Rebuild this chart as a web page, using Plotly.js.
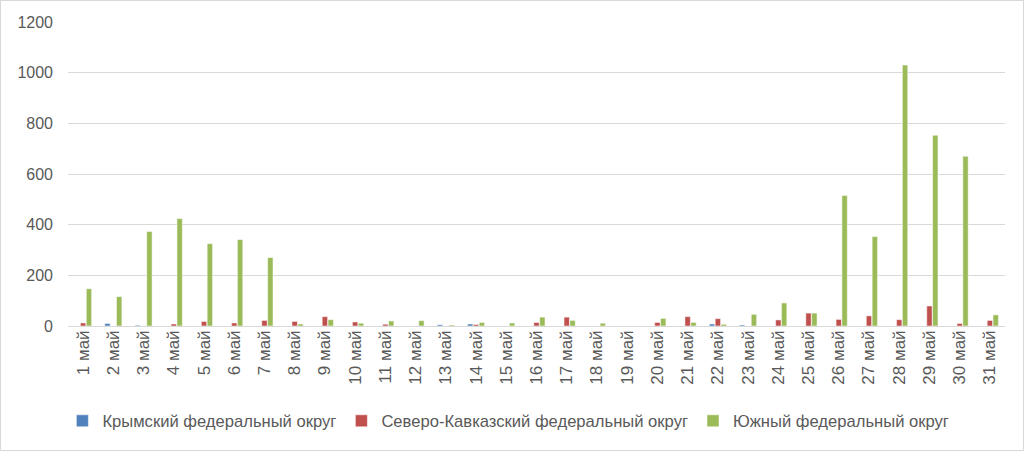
<!DOCTYPE html>
<html>
<head>
<meta charset="utf-8">
<script src="https://cdn.plot.ly/plotly-3.0.1.min.js"></script>
<style>
html,body{margin:0;padding:0;background:#fff;}
#chart{width:1024px;height:451px;box-sizing:border-box;border:1px solid #d9d9d9;}
</style>
</head>
<body>
<div id="chart"></div>
<script>
const days = ["1 май","2 май","3 май","4 май","5 май","6 май","7 май","8 май","9 май","10 май","11 май","12 май","13 май","14 май","15 май","16 май","17 май","18 май","19 май","20 май","21 май","22 май","23 май","24 май","25 май","26 май","27 май","28 май","29 май","30 май","31 май"];
const crimea = [0,10,3,0,0,0,0,0,0,0,0,0,5,8,0,0,0,0,0,0,0,8,4,0,0,0,0,0,0,0,0];
const northCaucasus = [12,0,0,8,18,12,22,18,37,16,7,0,0,6,0,14,35,0,0,14,37,29,0,24,51,26,40,25,79,10,22];
const southern = [147,116,373,424,325,341,270,8,25,11,20,21,4,14,12,35,22,11,0,30,14,7,46,91,51,515,353,1030,753,670,44];
const seriesNames = ["Крымский федеральный округ","Северо-Кавказский федеральный округ","Южный федеральный округ"];
const colors = ["#4F81BD","#C0504D","#9BBB59"];
const yTicks = [0,200,400,600,800,1000,1200];

const font = {family:"Liberation Sans, Arial, sans-serif", size:16, color:"#595959"};
const xfont = {family:"Liberation Sans, Arial, sans-serif", size:17, color:"#595959"};
const lfont = {family:"Liberation Sans, Arial, sans-serif", size:16.6, color:"#595959"};
const traces = [crimea, northCaucasus, southern].map((vals,i)=>({
  type:"bar", x:days, y:vals, name:seriesNames[i],
  marker:{color:colors[i], line:{color:"#ffffff", width:0.5}}
}));

const layout = {
  width:1022, height:449,
  margin:{l:67, r:18, t:21, b:120},
  paper_bgcolor:"#ffffff", plot_bgcolor:"#ffffff",
  font:font,
  barmode:"group", bargap:0.42, bargroupgap:0.08,
  showlegend:true,
  legend:{orientation:"h", x:-0.006, xanchor:"left", y:-0.255, yanchor:"top", font:lfont, traceorder:"normal", itemwidth:30},
  xaxis:{type:"category", tickangle:-90, tickfont:xfont, showgrid:false, showline:false, ticks:"", ticklen:0, automargin:false},
  yaxis:{range:[0,1200], tickvals:yTicks, ticktext:yTicks.map(String), tickfont:font, gridcolor:"#d9d9d9", gridwidth:1, zeroline:true, zerolinecolor:"#d9d9d9", zerolinewidth:1, showline:false, ticks:"", ticklabelstandoff:14, automargin:false}
};
Plotly.newPlot("chart", traces, layout, {displayModeBar:false, staticPlot:true});
</script>
</body>
</html>
